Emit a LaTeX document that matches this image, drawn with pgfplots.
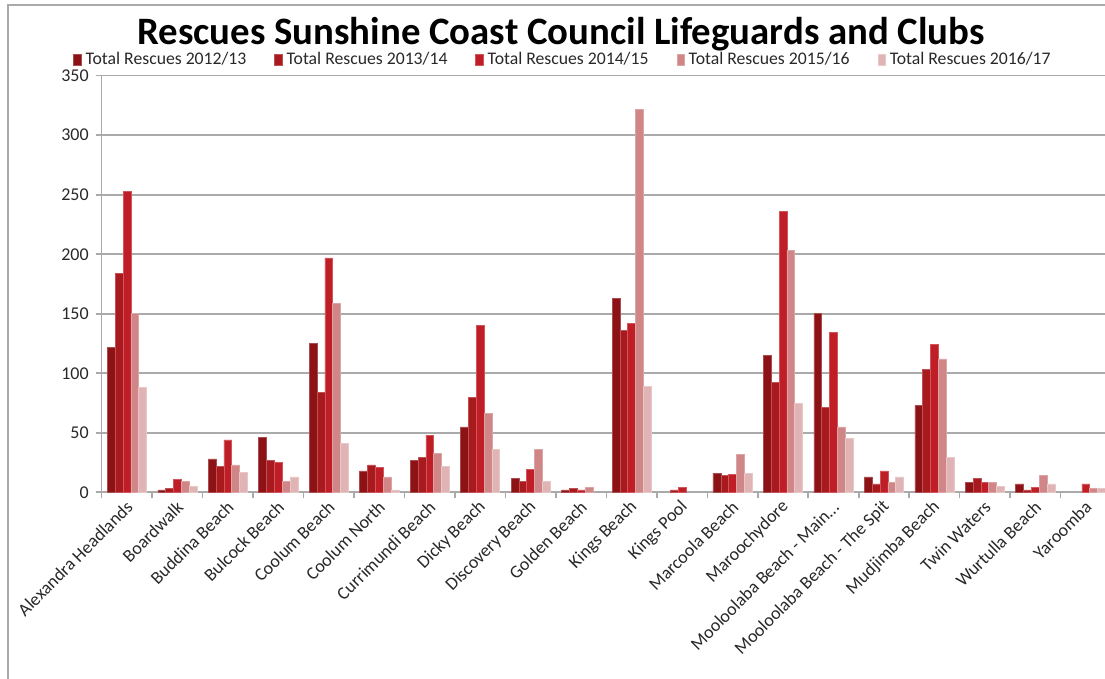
\documentclass[border=0pt]{standalone}
\usepackage{pgfplots}
\pgfplotsset{compat=1.18}
\usepackage{pgfplotstable}
\usepackage{fontspec}
\setmainfont{Carlito}

\definecolor{c1}{RGB}{140,18,22}
\definecolor{c2}{RGB}{168,26,30}
\definecolor{c3}{RGB}{192,30,38}
\definecolor{c4}{RGB}{208,134,134}
\definecolor{c5}{RGB}{224,180,180}
\definecolor{gridgray}{RGB}{170,170,170}
\definecolor{txt}{RGB}{40,40,40}
\newcommand{\threedots}{...}

% rescues per beach, one column per season
\pgfplotstableread{
cat s1 s2 s3 s4 s5
0 122 184 253 150 88
1 2 3 11 9 5
2 28 22 44 23 17
3 46 27 25 9 13
4 125 84 197 159 41
5 18 23 21 13 2
6 27 29 48 33 22
7 55 80 140 66 36
8 12 9 19 36 9
9 2 3 2 4 0
10 163 136 142 322 89
11 0 2 4 0 0
12 16 14 15 32 16
13 115 92 236 203 75
14 150 71 134 55 45
15 13 7 18 8 13
16 73 103 124 112 29
17 8 12 8 8 5
18 7 2 4 14 7
19 0 0 7 3 3
}\rescues

\begin{document}
\begin{tikzpicture}
\useasboundingbox (0,0) rectangle (552.5pt,339.5pt);
% chart frame
\draw[gridgray, line width=0.8pt] (4pt,0) -- (4pt,337pt) -- (552.5pt,337pt);
\node[anchor=base, font=\fontsize{19.4}{22}\selectfont\bfseries] at (280.5pt,317pt)
  {Rescues Sunshine Coast Council Lifeguards and Clubs};

\begin{axis}[
    at={(50.85pt,93.35pt)}, anchor=south west,
    scale only axis,
    width=501.65pt, height=208.3pt,
    xmin=-0.5, xmax=19.38,
    ymin=0, ymax=350,
    enlargelimits=false,
    ybar=0pt, bar width=0.155,
    unbounded coords=discard,
    % empty seasons get no bar at all
    y filter/.expression={y==0 ? nan : y},
    axis x line*=bottom, axis y line*=left,
    axis line style={gridgray, line width=0.8pt},
    tick align=outside,
    major tick length=3pt,
    minor tick length=3pt,
    tick style={gridgray, line width=0.8pt},
    xtick={0,...,19},
    minor xtick={-0.5,0.5,...,18.5},
    x tick style={draw=none},
    minor x tick style={draw=gridgray},
    xticklabels={Alexandra Headlands, Boardwalk, Buddina Beach, Bulcock Beach,
      Coolum Beach, Coolum North, Currimundi Beach, Dicky Beach, Discovery Beach,
      Golden Beach, Kings Beach, Kings Pool, Marcoola Beach, Maroochydore,
      Mooloolaba Beach - Main\threedots, Mooloolaba Beach - The Spit, Mudjimba Beach,
      Twin Waters, Wurtulla Beach, Yaroomba},
    xticklabel style={rotate=45, anchor=east, font=\fontsize{9}{10}\selectfont,
      text=txt, inner sep=1pt, yshift=-3pt},
    ytick={0,50,...,350},
    yticklabel style={font=\fontsize{9}{10}\selectfont, text=txt},
    /pgf/number format/assume math mode=true,
    ymajorgrids,
    grid style={gridgray, line width=0.8pt},
    legend columns=5,
    legend style={at={(0.4608,1.0377)}, anchor=center, draw=none, fill=none,
      font=\fontsize{8.85}{10}\selectfont, text=txt,
      /tikz/every even column/.append style={column sep=12pt},
      inner sep=0pt},
    legend image code/.code={\fill[#1] (0pt,-2.6pt) rectangle (3.8pt,2.8pt);},
]
\addplot[fill=c1, draw=c1!75!white, line width=0.3pt, bar shift=-0.31] table[x=cat, y=s1] {\rescues};
\addplot[fill=c2, draw=c2!75!white, line width=0.3pt, bar shift=-0.155] table[x=cat, y=s2] {\rescues};
\addplot[fill=c3, draw=c3!75!white, line width=0.3pt, bar shift=0] table[x=cat, y=s3] {\rescues};
\addplot[fill=c4, draw=c4!75!white, line width=0.3pt, bar shift=0.155] table[x=cat, y=s4] {\rescues};
\addplot[fill=c5, draw=c5!75!white, line width=0.3pt, bar shift=0.31] table[x=cat, y=s5] {\rescues};
\legend{Total Rescues 2012/13, Total Rescues 2013/14, Total Rescues 2014/15,
  Total Rescues 2015/16, Total Rescues 2016/17}
\end{axis}
\end{tikzpicture}
\end{document}
